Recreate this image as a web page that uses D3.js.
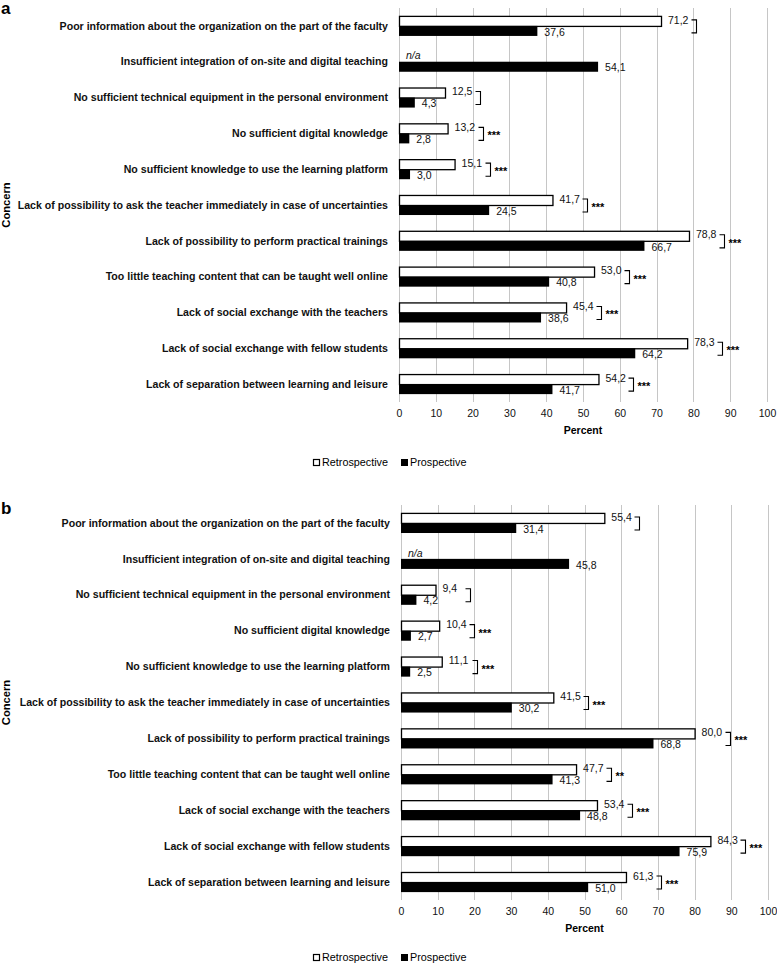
<!DOCTYPE html>
<html><head><meta charset="utf-8">
<script src="https://cdn.jsdelivr.net/npm/d3@7"></script>
<style>
body{margin:0;background:#fff;}
svg{display:block;font-family:"Liberation Sans",Arial,Helvetica,sans-serif;}
</style></head>
<body><svg id="c" width="777" height="964"></svg>
<script>
const categories = [
  "Poor information about the organization on the part of the faculty",
  "Insufficient integration of on-site and digital teaching",
  "No sufficient technical equipment in the personal environment",
  "No sufficient digital knowledge",
  "No sufficient knowledge to use the learning platform",
  "Lack of possibility to ask the teacher immediately in case of uncertainties",
  "Lack of possibility to perform practical trainings",
  "Too little teaching content that can be taught well online",
  "Lack of social exchange with the teachers",
  "Lack of social exchange with fellow students",
  "Lack of separation between learning and leisure"
];
const retroA = [71.2, null, 12.5, 13.2, 15.1, 41.7, 78.8, 53.0, 45.4, 78.3, 54.2];
const prospA = [37.6, 54.1, 4.3, 2.8, 3.0, 24.5, 66.7, 40.8, 38.6, 64.2, 41.7];
const sigA   = ["", null, "", "***", "***", "***", "***", "***", "***", "***", "***"];
const retroB = [55.4, null, 9.4, 10.4, 11.1, 41.5, 80.0, 47.7, 53.4, 84.3, 61.3];
const prospB = [31.4, 45.8, 4.2, 2.7, 2.5, 30.2, 68.8, 41.3, 48.8, 75.9, 51.0];
const sigB   = ["", null, "", "***", "***", "***", "***", "**", "***", "***", "***"];
const xTicks = [0,10,20,30,40,50,60,70,80,90,100];
const seriesNames = ["Retrospective", "Prospective"];
const panelLabels = ["a", "b"];
const yTitle = "Concern";
const xTitle = "Percent";
const naLabel = "n/a";

const svg = d3.select("#c");
const fmt = v => d3.format(".1f")(v).replace(".", ",");

function panel(cfg) {
  const g = svg.append("g");
  const x = d3.scaleLinear().domain([0, 100]).range([cfg.x0, cfg.x1]);
  const y = d3.scaleBand().domain(categories).range([cfg.top, cfg.bottom]).paddingInner(0.44).paddingOuter(0.22);
  const bh = y.bandwidth() / 2;

  // grid
  g.append("g").selectAll("line").data(xTicks).join("line")
    .attr("x1", d => Math.round(x(d)) + 0.5).attr("x2", d => Math.round(x(d)) + 0.5)
    .attr("y1", cfg.top).attr("y2", cfg.bottom)
    .attr("stroke", "#c6c6c6").attr("stroke-width", 1);

  // axis labels
  const ax = d3.axisBottom(x).tickValues(xTicks).tickSize(0).tickPadding(0).tickFormat(d3.format("d"));
  const axg = g.append("g").attr("transform", `translate(0,${cfg.bottom + 8})`).call(ax);
  axg.select(".domain").remove();
  axg.selectAll("text").attr("font-size", "10.5px").attr("fill", "#111").attr("font-family", null);

  g.append("text").attr("x", x(50)).attr("y", cfg.bottom + 32).attr("text-anchor", "middle")
    .attr("font-size", "10.5px").attr("font-weight", "bold").text(xTitle);

  // category labels
  g.append("g").selectAll("text").data(categories).join("text")
    .attr("x", cfg.x0 - 11).attr("y", d => y(d) + y.bandwidth() / 2)
    .attr("dy", "0.35em").attr("text-anchor", "end")
    .attr("font-size", "10.6px").attr("font-weight", "bold").attr("fill", "#111").text(d => d);

  // y title
  g.append("text").attr("transform", `translate(10,${(cfg.top + cfg.bottom) / 2}) rotate(-90)`)
    .attr("text-anchor", "middle").attr("font-size", "11.2px").attr("font-weight", "bold").text(yTitle);

  // panel label
  g.append("text").attr("x", 1).attr("y", cfg.labelY).attr("font-size", "17px").attr("font-weight", "bold").text(cfg.label);

  const rows = categories.map((c, i) => ({c, r: cfg.retro[i], p: cfg.prosp[i], s: cfg.sig[i]}));

  // retro bars
  g.append("g").selectAll("rect").data(rows.filter(d => d.r != null)).join("rect")
    .attr("x", x(0) + 0.5).attr("y", d => y(d.c) + 0.5)
    .attr("width", d => x(d.r) - x(0)).attr("height", bh)
    .attr("fill", "#fff").attr("stroke", "#000").attr("stroke-width", 1.3);
  // prosp bars
  g.append("g").selectAll("rect").data(rows).join("rect")
    .attr("x", x(0)).attr("y", d => y(d.c) + bh)
    .attr("width", d => x(d.p) - x(0)).attr("height", bh)
    .attr("fill", "#000");

  // retro labels
  g.append("g").selectAll("text").data(rows).join("text")
    .attr("x", d => d.r != null ? x(d.r) + 7 : x(0) + 7)
    .attr("y", d => y(d.c) + bh / 2 - 1).attr("dy", "0.35em")
    .attr("font-size", "10.5px").attr("fill", "#111")
    .attr("font-style", d => d.r != null ? null : "italic")
    .text(d => d.r != null ? fmt(d.r) : naLabel);
  // prosp labels
  g.append("g").selectAll("text").data(rows).join("text")
    .attr("x", d => x(d.p) + 7)
    .attr("y", d => y(d.c) + bh * 1.5 + 1).attr("dy", "0.35em")
    .attr("font-size", "10.5px").attr("fill", "#111")
    .text(d => fmt(d.p));

  // brackets
  const br = rows.filter(d => d.s != null && d.r != null);
  const bx = d => Math.round(x(d.r) + 35) + 0.5;
  g.append("g").selectAll("path").data(br).join("path")
    .attr("d", d => {
      const y1 = y(d.c) + bh / 2 - 1, y2 = y(d.c) + bh * 1.5 + 2;
      return `M${bx(d) - 5},${y1}H${bx(d)}V${y2}H${bx(d) - 5}`;
    })
    .attr("fill", "none").attr("stroke", "#000").attr("stroke-width", 1.1);
  g.append("g").selectAll("text").data(br.filter(d => d.s)).join("text")
    .attr("x", d => bx(d) + 4).attr("y", d => y(d.c) + bh + 6)
    .attr("font-size", "11px").attr("font-weight", "bold").text(d => d.s);

  // legend
  const lg = g.append("g").attr("transform", `translate(313,${cfg.legendY})`);
  lg.append("rect").attr("x", 0.5).attr("y", -6.5).attr("width", 6).attr("height", 6)
    .attr("fill", "#fff").attr("stroke", "#000").attr("stroke-width", 1.2);
  lg.append("text").attr("x", 9).attr("y", 0).attr("font-size", "10.8px").text(seriesNames[0]);
  lg.append("rect").attr("x", 88).attr("y", -7).attr("width", 7).attr("height", 7).attr("fill", "#000");
  lg.append("text").attr("x", 97).attr("y", 0).attr("font-size", "10.8px").text(seriesNames[1]);
}

panel({label: panelLabels[0], labelY: 14, x0: 399, x1: 767, top: 8, bottom: 402, legendY: 466,
  retro: retroA, prosp: prospA, sig: sigA});
panel({label: panelLabels[1], labelY: 514, x0: 401, x1: 768, top: 505, bottom: 900, legendY: 961,
  retro: retroB, prosp: prospB, sig: sigB});
</script></body></html>
